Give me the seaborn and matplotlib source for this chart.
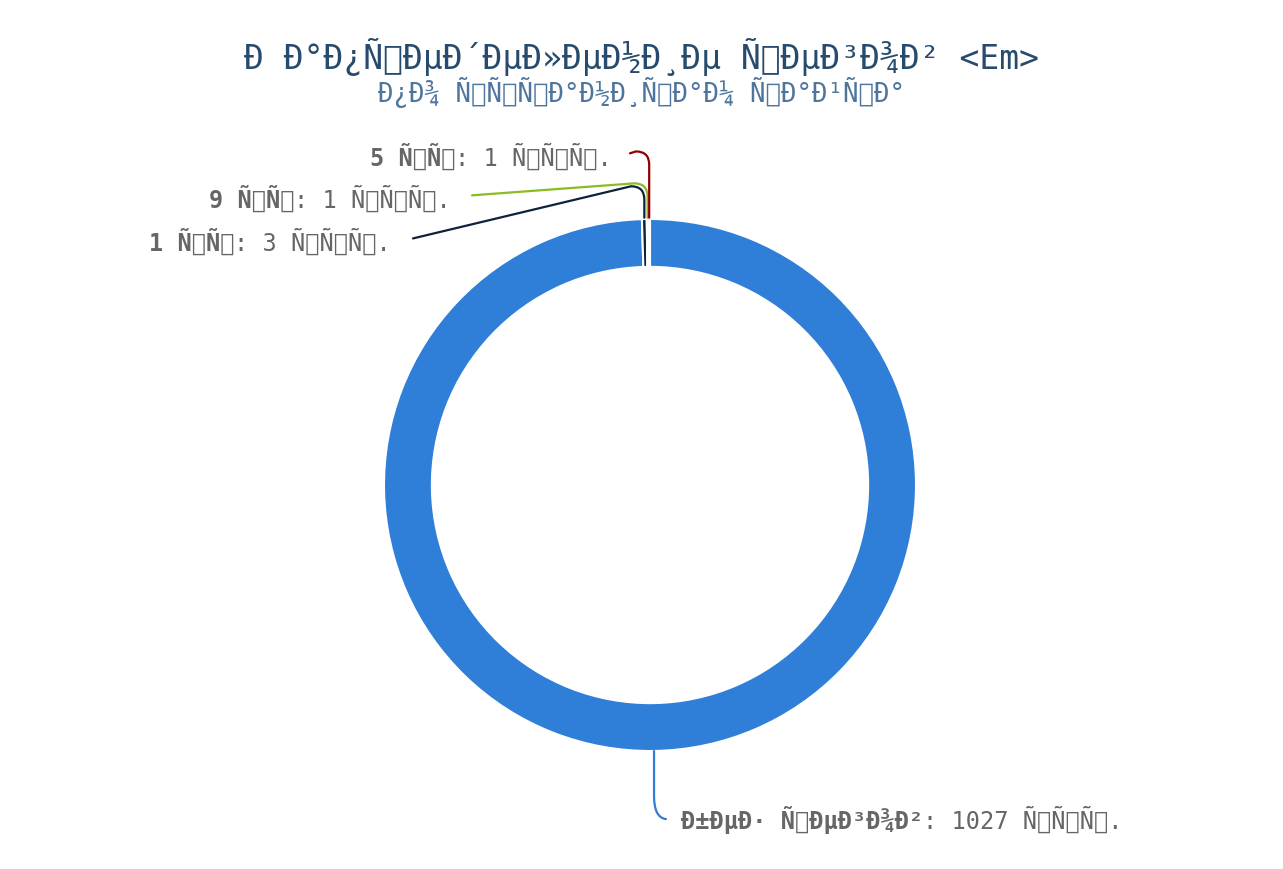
import numpy as np
import matplotlib
matplotlib.use("Agg")
import matplotlib.pyplot as plt
from matplotlib.path import Path
from matplotlib.patches import PathPatch
import seaborn as sns


def moji(s):
    # text shows up utf-8 bytes read as latin-1, keep it that way
    return s.encode("utf-8").decode("latin-1")


title = moji("Рапределение тегов <Em>")
subtitle = moji("по страницам сайта")
categories = [moji("без тегов"), moji("1 шт"), moji("9 шт"), moji("5 шт")]
values = [1027, 3, 1, 1]
unit = moji("стр.")

sns.set_style("white")
plt.rcParams["font.family"] = ["DejaVu Sans Mono", "DejaVu Sans"]
colors = ["#2f7ed8", "#0d233a", "#8bbc21", "#910000"]
label_color = "#666666"

fig = plt.figure(figsize=(12.83, 8.70), dpi=100)
R = 266.0  # outer radius in px
cx, cy = 650, 486
half = 330
ax = fig.add_axes([(cx - half) / 1283, (870 - cy - half) / 870, 2 * half / 1283, 2 * half / 870])
wedges, _ = ax.pie(values, colors=colors, startangle=90, counterclock=False, radius=1,
                   wedgeprops=dict(width=0.18, edgecolor="white", linewidth=1.5))
ax.set_xlim(-half / R, half / R)
ax.set_ylim(-half / R, half / R)
ax.axis("off")

# label layout (data units, 1 = outer radius): text anchor x, text y, line end x, bend y
layout = [
    dict(tx=0.117, ty=-1.256, ex=0.06, bend=-1.2, ha="left"),
    dict(tx=-0.974, ty=0.917, ex=-0.891, bend=1.113, ha="right"),
    dict(tx=-0.748, ty=1.079, ex=-0.669, bend=1.124, ha="right"),
    dict(tx=-0.143, ty=1.237, ex=-0.075, bend=1.244, ha="right"),
]

fs = 17
for w, cat, val, col, lay in zip(wedges, categories, values, colors, layout):
    mid = np.deg2rad((w.theta1 + w.theta2) / 2)
    axx, axy = np.cos(mid), np.sin(mid)
    b = lay["bend"]
    if lay["ha"] == "left":
        verts = [(axx, axy), (axx, b + 0.03), (axx, b - 0.05), (lay["ex"], lay["ty"]), (lay["ex"] + 0.0, lay["ty"])]
        codes = [Path.MOVETO, Path.LINETO, Path.CURVE3, Path.CURVE3, Path.LINETO]
    else:
        verts = [(axx, axy + 0.005), (axx, b - 0.04), (axx, b + 0.01), (axx - 0.05, b + 0.01),
                 (lay["ex"], lay["ty"] + 0.01)]
        codes = [Path.MOVETO, Path.LINETO, Path.CURVE3, Path.CURVE3, Path.LINETO]
    ax.add_patch(PathPatch(Path(verts, codes), facecolor="none", edgecolor=col, lw=1.6,
                           clip_on=False, capstyle="round", joinstyle="round"))

    bold = cat
    rest = f": {val} {unit}"
    if lay["ha"] == "left":
        t1 = ax.text(lay["tx"], lay["ty"], bold, ha="left", va="center", fontsize=fs,
                     fontweight="bold", color=label_color)
        ax.annotate(rest, xy=(1, 0), xycoords=t1, ha="left", va="bottom", fontsize=fs,
                    color=label_color)
    else:
        t2 = ax.text(lay["tx"], lay["ty"], rest, ha="right", va="center", fontsize=fs,
                     color=label_color)
        ax.annotate(bold, xy=(0, 0), xycoords=t2, ha="right", va="bottom", fontsize=fs,
                    fontweight="bold", color=label_color)

fig.text(0.5, 1 - 57 / 870, title, ha="center", va="center", fontsize=23.8, color="#274b6d")
fig.text(0.5, 1 - 92 / 870, subtitle, ha="center", va="center", fontsize=18.5, color="#4d759e")

fig.savefig("out.png", dpi=100, facecolor="white")
